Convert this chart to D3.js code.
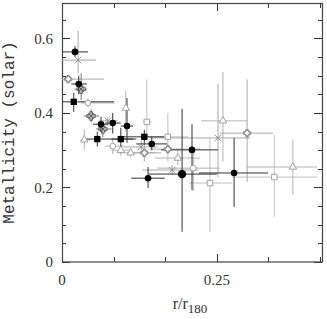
<!DOCTYPE html>
<html>
<head>
<meta charset="utf-8">
<script src="https://cdn.jsdelivr.net/npm/d3@7.9.0/dist/d3.min.js"></script>
<style>
  body { margin: 0; background: #fff; }
  svg { display: block; }
</style>
</head>
<body>
<svg width="327" height="319"></svg>
<script>
// each point: [x, y, xLow, xHigh, yLow, yHigh]
const filledCircles = [
  [0.021, 0.564, 0.0, 0.042, 0.55, 0.58],
  [0.027, 0.478, 0.015, 0.04, 0.45, 0.50],
  [0.063, 0.370, 0.05, 0.075, 0.35, 0.39],
  [0.082, 0.373, 0.07, 0.095, 0.345, 0.40],
  [0.105, 0.365, 0.095, 0.115, 0.32, 0.44],
  [0.145, 0.317, 0.12, 0.17, 0.30, 0.335],
  [0.210, 0.301, 0.16, 0.252, 0.193, 0.370],
  [0.139, 0.225, 0.112, 0.166, 0.199, 0.255],
  [0.278, 0.239, 0.221, 0.333, 0.148, 0.333]
];
const bigCircles = [
  [0.194, 0.236, 0.14, 0.25, 0.081, 0.411]
];
const filledSquares = [
  [0.019, 0.430, 0.0, 0.084, 0.403, 0.454],
  [0.057, 0.330, 0.037, 0.115, 0.31, 0.35],
  [0.095, 0.330, 0.08, 0.12, 0.30, 0.36],
  [0.133, 0.336, 0.10, 0.165, 0.315, 0.355]
];
const openSquares = [
  [0.137, 0.376, 0.13, 0.145, 0.33, 0.49],
  [0.171, 0.336, 0.126, 0.204, 0.27, 0.40],
  [0.239, 0.212, 0.205, 0.275, 0.08, 0.33],
  [0.343, 0.228, 0.275, 0.412, 0.121, 0.341]
];
const openTriangles = [
  [0.036, 0.328, 0.03, 0.045, 0.30, 0.355],
  [0.095, 0.300, 0.08, 0.11, 0.285, 0.315],
  [0.111, 0.293, 0.09, 0.15, 0.28, 0.305],
  [0.187, 0.279, 0.150, 0.223, 0.26, 0.30],
  [0.260, 0.379, 0.225, 0.299, 0.27, 0.51],
  [0.373, 0.255, 0.299, 0.412, 0.180, 0.330],
  [0.103, 0.413, 0.10, 0.108, 0.35, 0.46]
];
const openCircles = [
  [0.042, 0.427, 0.03, 0.085, 0.415, 0.44],
  [0.082, 0.311, 0.07, 0.10, 0.29, 0.33],
  [0.212, 0.252, 0.154, 0.255, 0.19, 0.30]
];
const plusCircles = [
  [0.010, 0.491, 0.0, 0.068, 0.48, 0.50],
  [0.171, 0.303, 0.142, 0.223, 0.29, 0.315],
  [0.299, 0.346, 0.255, 0.341, 0.215, 0.49],
  [0.133, 0.293, 0.105, 0.16, 0.27, 0.315]
];
const crosses = [
  [0.026, 0.542, 0.0, 0.055, 0.507, 0.62],
  [0.074, 0.379, 0.06, 0.09, 0.365, 0.39],
  [0.128, 0.309, 0.10, 0.155, 0.295, 0.325],
  [0.178, 0.247, 0.13, 0.22, 0.235, 0.26],
  [0.252, 0.333, 0.142, 0.304, 0.228, 0.478]
];
const stars = [
  [0.031, 0.464, 0.02, 0.04, 0.435, 0.507],
  [0.047, 0.392, 0.035, 0.06, 0.375, 0.41],
  [0.066, 0.357, 0.055, 0.08, 0.335, 0.375]
];

const xTicks = [0, 0.25];
const yTicks = [0, 0.2, 0.4, 0.6];

const svg = d3.select('svg');
const padLeft = 62, padRight = 322, padTop = 1.25, padBottom = 262;
const x = d3.scaleLinear().domain([0, 0.42]).range([padLeft, padRight]);
const y = d3.scaleLinear().domain([0, 0.7]).range([padBottom, padTop]);

// ticks (inward on all four sides)
const g = svg.append('g').attr('stroke', '#333').attr('stroke-width', 1);
const xMinor = d3.range(0, 0.42, 0.25 / 3);
xMinor.forEach((v, i) => {
  const len = i % 3 === 0 ? 8 : 5;
  const px = Math.round(x(v)) + 0.5;
  g.append('line').attr('x1', px).attr('x2', px).attr('y1', padBottom).attr('y2', padBottom - len);
  g.append('line').attr('x1', px).attr('x2', px).attr('y1', 3).attr('y2', 3 + len);
});
const yMinor = d3.range(0, 0.7, 0.05);
yMinor.forEach((v, i) => {
  const len = i % 4 === 0 ? 8 : 4;
  const py = Math.round(y(v)) + 0.5;
  g.append('line').attr('x1', padLeft).attr('x2', padLeft + len).attr('y1', py).attr('y2', py);
  g.append('line').attr('x1', padRight).attr('x2', padRight - len).attr('y1', py).attr('y2', py);
});

// frame
svg.append('rect')
  .attr('x', padLeft + 0.5).attr('y', 3.5)
  .attr('width', padRight - padLeft).attr('height', padBottom - 3.5)
  .attr('fill', 'none').attr('stroke', '#444').attr('stroke-width', 1.2);

function errorBars(data, color) {
  const eg = svg.append('g').attr('stroke', color).attr('stroke-width', 1);
  data.forEach(d => {
    eg.append('line').attr('x1', x(d[2])).attr('x2', x(d[3])).attr('y1', y(d[1])).attr('y2', y(d[1]));
    eg.append('line').attr('x1', x(d[0])).attr('x2', x(d[0])).attr('y1', y(d[4])).attr('y2', y(d[5]));
  });
}

errorBars(openSquares, '#c0c0c0');
errorBars(openTriangles, '#b5b5b5');
errorBars(openCircles, '#b0b0b0');
errorBars(plusCircles, '#a8a8a8');
errorBars(crosses, '#a8a8a8');
errorBars(stars, '#777');
errorBars(filledSquares, '#333');
errorBars(filledCircles, '#333');
errorBars(bigCircles, '#333');

function marks(data, type, size, fill, stroke) {
  const sym = d3.symbol().type(type).size(size);
  svg.append('g').selectAll('path').data(data).join('path')
    .attr('transform', d => `translate(${x(d[0])},${y(d[1])})`)
    .attr('d', sym)
    .attr('fill', fill)
    .attr('stroke', stroke)
    .attr('stroke-width', 0.9);
}

marks(openSquares, d3.symbolSquare, 30, '#fff', '#999');
marks(openTriangles, d3.symbolTriangle, 24, '#fff', '#999');
marks(openCircles, d3.symbolCircle, 26, '#fff', '#999');
marks(plusCircles, d3.symbolCircle, 26, '#fff', '#888');
marks(plusCircles, d3.symbolCross, 30, 'none', '#888');
marks(crosses, d3.symbolX, 30, 'none', '#888');
marks(stars, d3.symbolCross, 40, 'none', '#555');
marks(stars, d3.symbolX, 24, 'none', '#555');
marks(filledSquares, d3.symbolSquare, 40, '#000', 'none');
marks(filledCircles, d3.symbolCircle, 34, '#000', 'none');
marks(bigCircles, d3.symbolCircle, 55, '#000', 'none');

// tick labels
const serif = '"Liberation Serif", "DejaVu Serif", serif';
svg.append('g').selectAll('text').data(yTicks).join('text')
  .attr('x', 53).attr('y', d => y(d) + 5)
  .attr('text-anchor', 'end')
  .attr('font-family', serif).attr('font-size', 15).attr('fill', '#333')
  .text(d => d === 0 ? '0' : d.toString());
svg.append('g').selectAll('text').data(xTicks).join('text')
  .attr('x', d => x(d)).attr('y', 285)
  .attr('text-anchor', 'middle')
  .attr('font-family', serif).attr('font-size', 15).attr('fill', '#333')
  .text(d => d.toString());

// axis titles
svg.append('text')
  .attr('transform', `translate(14,${(3 + padBottom) / 2}) rotate(-90)`)
  .attr('text-anchor', 'middle')
  .attr('font-family', '"Liberation Mono", "DejaVu Sans Mono", monospace')
  .attr('font-size', 16).attr('fill', '#333')
  .text('Metallicity (solar)');

const xt = svg.append('text')
  .attr('x', 190).attr('y', 309)
  .attr('text-anchor', 'middle')
  .attr('font-family', serif).attr('font-size', 16).attr('fill', '#333');
xt.append('tspan').text('r/r');
xt.append('tspan').attr('dy', 4).attr('font-size', 13).text('180');
</script>
</body>
</html>
